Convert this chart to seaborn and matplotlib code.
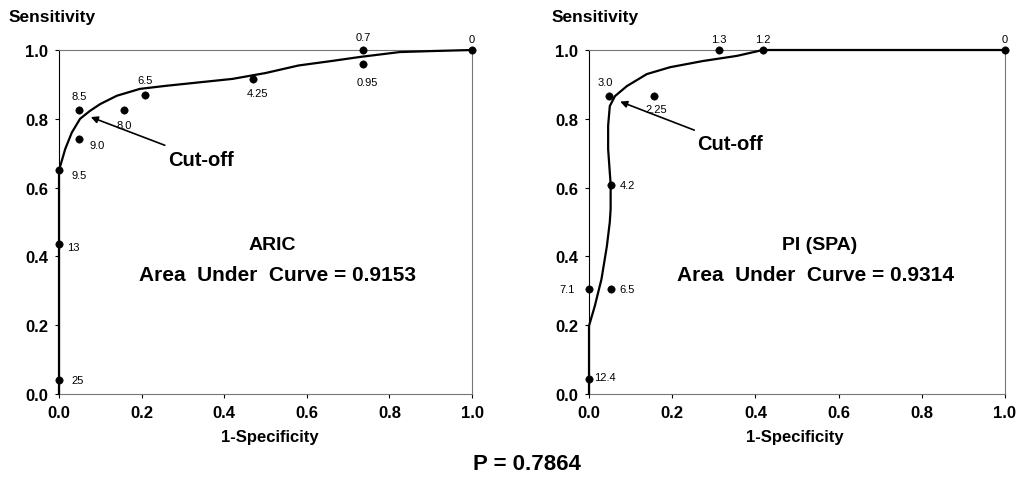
import numpy as np
import pandas as pd
import matplotlib
matplotlib.use("Agg")
import matplotlib.pyplot as plt
import seaborn as sns

# ARIC curve and cut-off points
aric_curve_x = [0.0, 0.0, 0.0, 0.015, 0.031, 0.051, 0.075, 0.10, 0.14, 0.196, 0.26, 0.34, 0.42,
                0.50, 0.58, 0.66, 0.73, 0.825, 0.905, 1.0]
aric_curve_y = [0.0, 0.567, 0.65, 0.712, 0.76, 0.80, 0.823, 0.843, 0.867, 0.887, 0.896, 0.906, 0.916,
                0.933, 0.955, 0.968, 0.98, 0.994, 0.997, 1.0]
aric_pts_x = [0.0, 0.0, 0.0, 0.048, 0.048, 0.157, 0.208, 0.47, 0.736, 0.736, 1.0]
aric_pts_y = [0.04, 0.436, 0.65, 0.826, 0.74, 0.826, 0.869, 0.916, 1.0, 0.96, 1.0]
aric_labels = ["25", "13", "9.5", "8.5", "9.0", "8.0", "6.5", "4.25", "0.7", "0.95", "0"]
aric_cutoff = (0.077, 0.805)

# PI (SPA) curve and cut-off points
pi_curve_x = [0.0, 0.0, 0.014, 0.03, 0.043, 0.05, 0.052, 0.052, 0.046, 0.046, 0.05, 0.0625, 0.091,
              0.139, 0.195, 0.274, 0.356, 0.418, 1.0]
pi_curve_y = [0.0, 0.198, 0.256, 0.334, 0.43, 0.5, 0.538, 0.61, 0.712, 0.78, 0.837, 0.866, 0.895,
              0.93, 0.95, 0.968, 0.983, 1.0, 1.0]
pi_pts_x = [0.0, 0.0, 0.053, 0.053, 0.048, 0.156, 0.313, 0.418, 1.0]
pi_pts_y = [0.044, 0.305, 0.305, 0.608, 0.866, 0.866, 1.0, 1.0, 1.0]
pi_labels = ["12.4", "7.1", "6.5", "4.2", "3.0", "2.25", "1.3", "1.2", "0"]
pi_cutoff = (0.075, 0.85)

ticks = [0.0, 0.2, 0.4, 0.6, 0.8, 1.0]
tick_labels = ["0.0", "0.2", "0.4", "0.6", "0.8", "1.0"]

# label offsets in points (dx, dy, ha) -- layout only
aric_offsets = [(9, 0, "left"), (6, -2, "left"), (9, -3, "left"), (0, 10, "center"), (8, -4, "left"),
                (0, -11, "center"), (0, 11, "center"), (3, -10, "center"), (0, 9, "center"),
                (3, -13, "center"), (0, 8, "center")]
pi_offsets = [(4, 1, "left"), (-10, 0, "right"), (6, 0, "left"), (6, 0, "left"), (-3, 10, "center"),
              (2, -9, "center"), (0, 8, "center"), (0, 8, "center"), (0, 8, "center")]

sns.set_style("white")
plt.rcParams['font.family'] = ['Liberation Sans', 'DejaVu Sans']
plt.rcParams['text.color'] = 'black'
plt.rcParams['xtick.color'] = 'black'
plt.rcParams['ytick.color'] = 'black'

fig = plt.figure(figsize=(10.21, 4.81), dpi=100)
ax1 = fig.add_axes([59 / 1021, 1 - 395 / 481, 413 / 1021, 344 / 481])
ax2 = fig.add_axes([589 / 1021, 1 - 395 / 481, 416 / 1021, 344 / 481])


def draw_panel(ax, cx, cy, px, py, labels, offsets, cutoff, name, auc, name_x, auc_x, cut_text,
               sens_x, spec_x):
    curve = pd.DataFrame({"x": cx, "y": cy})
    pts = pd.DataFrame({"x": px, "y": py})
    sns.lineplot(data=curve, x="x", y="y", sort=False, estimator=None, color="black",
                 linewidth=1.6, ax=ax, clip_on=False, zorder=3)
    sns.scatterplot(data=pts, x="x", y="y", color="black", s=28, edgecolor="black",
                    ax=ax, clip_on=False, zorder=4)
    for x, y, lab, (dx, dy, ha) in zip(px, py, labels, offsets):
        ax.annotate(lab, (x, y), xytext=(dx, dy), textcoords="offset points",
                    ha=ha, va="center", fontsize=8)
    ax.annotate("Cut-off", xy=cutoff, xytext=cut_text, ha="left", va="center",
                fontsize=14.5, fontweight="bold",
                arrowprops=dict(arrowstyle="-|>", color="black", lw=1.2,
                                shrinkA=2, shrinkB=0, mutation_scale=10))
    ax.text(name_x, 0.436, name, ha="center", va="center", fontsize=14, fontweight="bold")
    ax.text(auc_x, 0.346, "Area  Under  Curve = " + auc, ha="center", va="center",
            fontsize=15, fontweight="bold")

    ax.set_xlim(0, 1)
    ax.set_ylim(0, 1)
    ax.set_xticks(ticks)
    ax.set_xticklabels(tick_labels, fontweight="bold")
    ax.set_yticks(ticks)
    ax.set_yticklabels(tick_labels, fontweight="bold")
    ax.tick_params(axis="both", which="both", direction="out", length=3, width=0.8,
                   labelsize=12, pad=5, bottom=True, left=True)
    ax.set_xlabel("")
    ax.set_ylabel("")
    for side in ["top", "right", "bottom"]:
        ax.spines[side].set_color("#777777")
        ax.spines[side].set_linewidth(0.8)
    ax.spines["left"].set_color("black")
    ax.spines["left"].set_linewidth(0.8)
    ax.text(sens_x, 1.096, "Sensitivity", transform=ax.transAxes, ha="left", va="center",
            fontsize=12.5, fontweight="bold")
    ax.text(spec_x, -0.125, "1-Specificity", transform=ax.transAxes, ha="center", va="center",
            fontsize=12, fontweight="bold")


draw_panel(ax1, aric_curve_x, aric_curve_y, aric_pts_x, aric_pts_y, aric_labels, aric_offsets,
           aric_cutoff, "ARIC", "0.9153", 0.517, 0.529, (0.264, 0.683), -0.123, 0.51)
draw_panel(ax2, pi_curve_x, pi_curve_y, pi_pts_x, pi_pts_y, pi_labels, pi_offsets,
           pi_cutoff, "PI (SPA)", "0.9314", 0.555, 0.545, (0.26, 0.727), -0.089, 0.495)

fig.text(0.5157, 1 - 465 / 481, "P = 0.7864", ha="center", va="center", fontsize=16, fontweight="bold")

fig.savefig("out.png", dpi=100)
